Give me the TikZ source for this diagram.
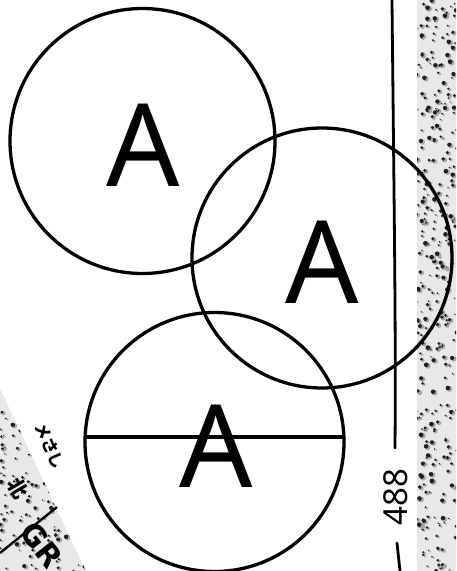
\documentclass[tikz,border=0pt]{standalone}
\usepackage{fontspec}
\setmainfont{Noto Sans}
\newfontfamily\cjk{Noto Sans CJK JP}
\newfontfamily\grfont{DejaVu Sans}
\begin{document}
\begin{tikzpicture}[x=1pt,y=-1pt,
  ring/.style={circle,draw=black,line width=3.3pt,inner sep=0pt,minimum size=#1},
  bigA/.style={font=\fontsize{115}{115}\selectfont,inner sep=0pt,text=black},
  rule/.style={line width=2.8pt,line cap=round},
  speck/.style={fill=black!88},
  hand/.style={inner sep=0pt}]
\useasboundingbox (0,0) rectangle (456,571);
\fill[white] (0,0) rectangle (456,571);
% speckled strip on the right
\begin{scope}
\clip (417,0) rectangle (456,571);
\fill[black!9] (417,0) rectangle (456,571);
\pgfmathsetseed{7}
\foreach \i in {1,...,330}{
  \pgfmathsetmacro\xx{416+41*rnd}
  \pgfmathsetmacro\yy{571*rnd}
  \pgfmathsetmacro\rr{0.8+2.2*rnd}
  \fill[black!35] (\xx+1.5,\yy+1) circle (\rr pt);
  \fill[speck] (\xx,\yy) circle (0.8*\rr pt);
}
\end{scope}
% speckled triangle lower left
\coordinate (t1) at (0,388);
\coordinate (t2) at (86,571);
\coordinate (t3) at (0,571);
\begin{scope}
\clip (t1) -- (t2) -- (t3) -- cycle;
\fill[black!9] (t1) -- (t2) -- (t3) -- cycle;
\pgfmathsetseed{11}
\foreach \i in {1,...,170}{
  \pgfmathsetmacro\xx{86*rnd}
  \pgfmathsetmacro\yy{388+183*rnd}
  \pgfmathsetmacro\rr{0.8+2.0*rnd}
  \fill[black!35] (\xx+1.5,\yy+1) circle (\rr pt);
  \fill[speck] (\xx,\yy) circle (0.8*\rr pt);
}
\end{scope}
% circles
\node[ring=265pt] (c1) at (142.5,141) {};
\node[ring=260pt] (c2) at (322,258) {};
\node[ring=259pt] (c3) at (214.5,442) {};
% chord in the lower circle
\coordinate (h1) at (85,437);
\coordinate (h2) at (344,437);
\draw[line width=3.1pt] (h1) -- (h2);
% letters
\node[bigA] (a1) at (143,145) {A};
\node[bigA] (a2) at (322,262) {A};
\node[bigA] (a3) at (216,446) {A};
% vertical line with label
\coordinate (v0) at (392,0);
\coordinate (v1) at (395,448);
\coordinate (v2) at (397,543);
\coordinate (v3) at (400,571);
\draw[rule] (v0) .. controls (394,200) and (396,330) .. (v1);
\draw[rule] (v2) -- (v3);
\node[font=\fontsize{33}{33}\selectfont,inner sep=0pt,rotate=90] (n488) at (396,497) {488};
% lower-left marks
\coordinate (g1) at (0,553);
\coordinate (g2) at (57,507);
\draw[line width=2.4pt] (g1) -- (g2);
\node[font=\grfont\bfseries\fontsize{30}{30}\selectfont,inner sep=0pt,rotate=-52,anchor=west] (gr) at (27,526) {GR};
\node[hand,font=\cjk\bfseries\fontsize{16}{16}\selectfont,rotate=-65] (h1t) at (50,446) {メさし};
\node[hand,font=\cjk\bfseries\fontsize{20}{20}\selectfont,rotate=-60] (h2t) at (18,488) {北};
\end{tikzpicture}
\end{document}
